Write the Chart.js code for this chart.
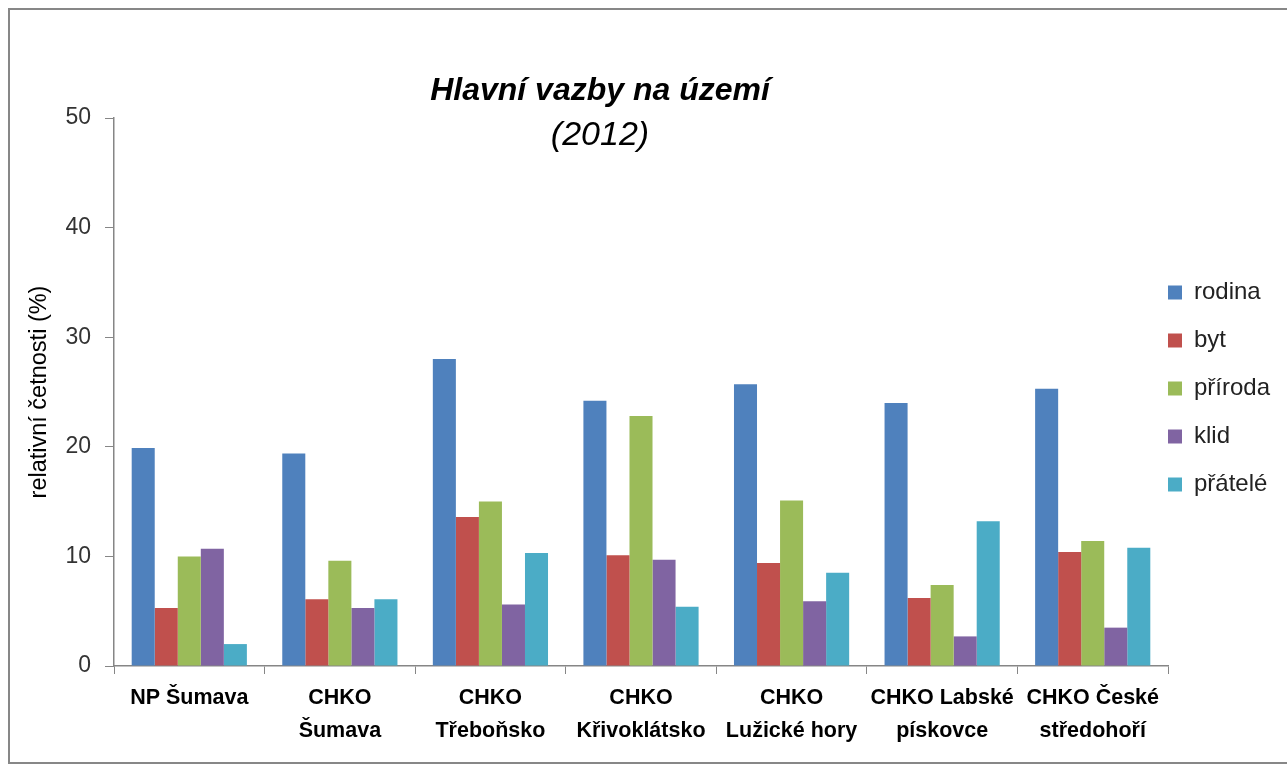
<!DOCTYPE html>
<html>
<head>
<meta charset="utf-8">
<script src="https://cdn.jsdelivr.net/npm/chart.js@4"></script>
<style>
    html, body { margin: 0; padding: 0; background: #fff; }
    #frame {
        position: absolute; left: 8px; top: 8px;
        width: 1290px; height: 752px;
        border: 2px solid #878787;
    }
    #chart { position: absolute; left: 0; top: 0; }
</style>
</head>
<body>
<div id="frame"></div>
<canvas id="chart" width="1287" height="765"></canvas>
<script>
// --- DATA ---
const categories = [
    'NP Šumava',
    ['CHKO', 'Šumava'],
    ['CHKO', 'Třeboňsko'],
    ['CHKO', 'Křivoklátsko'],
    ['CHKO', 'Lužické hory'],
    ['CHKO Labské', 'pískovce'],
    ['CHKO České', 'středohoří']
];
const rodina  = [19.9, 19.4, 28.0, 24.2, 25.7, 24.0, 25.3];
const byt     = [5.3, 6.1, 13.6, 10.1, 9.4, 6.2, 10.4];
const priroda = [10.0, 9.6, 15.0, 22.8, 15.1, 7.4, 11.4];
const klid    = [10.7, 5.3, 5.6, 9.7, 5.9, 2.7, 3.5];
const pratele = [2.0, 6.1, 10.3, 5.4, 8.5, 13.2, 10.8];
const yMin = 0, yMax = 50, yStep = 10;

const FONT = '"Liberation Sans", Arial, sans-serif';

// title drawn inside the plot area, like the original
const titlePlugin = {
    id: 'innerTitle',
    afterDraw(chart) {
        const ctx = chart.ctx;
        ctx.save();
        ctx.fillStyle = '#000';
        ctx.textAlign = 'center';
        ctx.textBaseline = 'alphabetic';
        ctx.font = 'italic bold 32px ' + FONT;
        ctx.fillText('Hlavní vazby na území', 600, 100);
        ctx.font = 'italic 34px ' + FONT;
        ctx.fillText('(2012)', 600, 145);
        ctx.restore();
    }
};

// pull the legend left/up so it sits where Excel put it
// (only the left edge moves, so the labels don't get clipped)
const legendShift = {
    id: 'legendShift',
    afterLayout(chart) {
        const lg = chart.legend;
        if (!lg) return;
        lg.left -= 24;
        lg.top -= 53; lg.bottom -= 53;
    }
};

const ds = (label, data, color) => ({
    label: label,
    data: data,
    backgroundColor: color,
    borderWidth: 0,
    categoryPercentage: 0.765,
    barPercentage: 1.0
});

new Chart(document.getElementById('chart').getContext('2d'), {
    type: 'bar',
    data: {
        labels: categories,
        datasets: [
            ds('rodina', rodina, '#4F81BD'),
            ds('byt', byt, '#C0504D'),
            ds('příroda', priroda, '#9BBB59'),
            ds('klid', klid, '#8064A2'),
            ds('přátelé', pratele, '#4BACC6')
        ]
    },
    options: {
        responsive: false,
        animation: false,
        devicePixelRatio: 1,
        layout: { padding: { top: 118, left: 0, right: 0, bottom: 0 } },
        plugins: {
            title: { display: false },
            tooltip: { enabled: false },
            legend: {
                position: 'right',
                maxWidth: 119,
                labels: {
                    font: { family: FONT, size: 24 },
                    color: '#222',
                    boxWidth: 14,
                    boxHeight: 14,
                    padding: 24
                }
            }
        },
        scales: {
            x: {
                grid: { drawOnChartArea: false, offset: true, tickLength: 8, color: '#868686' },
                border: { color: '#868686', width: 1.5 },
                ticks: {
                    font: { family: FONT, size: 21.5, weight: 'bold', lineHeight: '33px' },
                    color: '#000',
                    maxRotation: 0,
                    autoSkip: false,
                    padding: 8
                },
                afterFit(scale) { scale.height = 99; }
            },
            y: {
                min: yMin,
                max: yMax,
                ticks: {
                    stepSize: yStep,
                    font: { family: FONT, size: 23 },
                    color: '#333',
                    padding: 14
                },
                grid: { drawOnChartArea: false, tickLength: 9, color: '#868686' },
                border: { color: '#868686', width: 1.5 },
                title: {
                    display: true,
                    text: 'relativní četnosti (%)',
                    font: { family: FONT, size: 23.5 },
                    color: '#000',
                    padding: { top: 25, bottom: 0 }
                },
                afterFit(scale) { scale.width = 114; }
            }
        }
    },
    plugins: [titlePlugin, legendShift]
});
</script>
</body>
</html>
